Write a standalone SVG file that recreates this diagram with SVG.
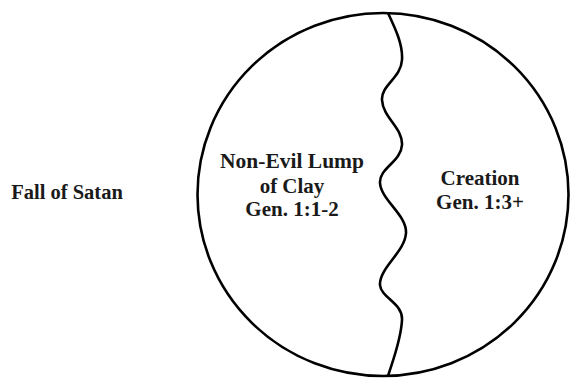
<svg xmlns="http://www.w3.org/2000/svg" width="570" height="379" viewBox="0 0 570 379">
<style>
.t{font-family:"Liberation Serif","Times New Roman",serif;font-weight:bold;font-size:21px;fill:#1a1a1a;text-anchor:middle}
.s{fill:none;stroke:#000;stroke-width:2.6}
</style>
<rect width="570" height="379" fill="#fff"/>
<g id="fall-of-satan"><text class="t" x="67" y="199" style="font-size:20.5px">Fall of Satan</text></g>
<g id="circle"><ellipse class="s" cx="383" cy="194.5" rx="185.5" ry="181.5"/></g>
<g id="connectors">
<path class="s" d="M388,13 C396,30 403,45 402,60 C401,78 381,85 382,100 C383,118 403,128 402,145 C401,162 379,168 380,183 C381,200 407,215 406,233 C405,252 379,268 380,285 C381,298 403,303 402,320 C401,340 393,360 388,376"/>
</g>
<g id="lump"><text class="t" x="292" y="168" style="font-size:21.5px">Non-Evil Lump</text><text class="t" x="292" y="193">of Clay</text><text class="t" x="292" y="216">Gen. 1:1-2</text></g>
<g id="creation"><text class="t" x="480" y="185">Creation</text><text class="t" x="480" y="209">Gen. 1:3+</text></g>
</svg>
